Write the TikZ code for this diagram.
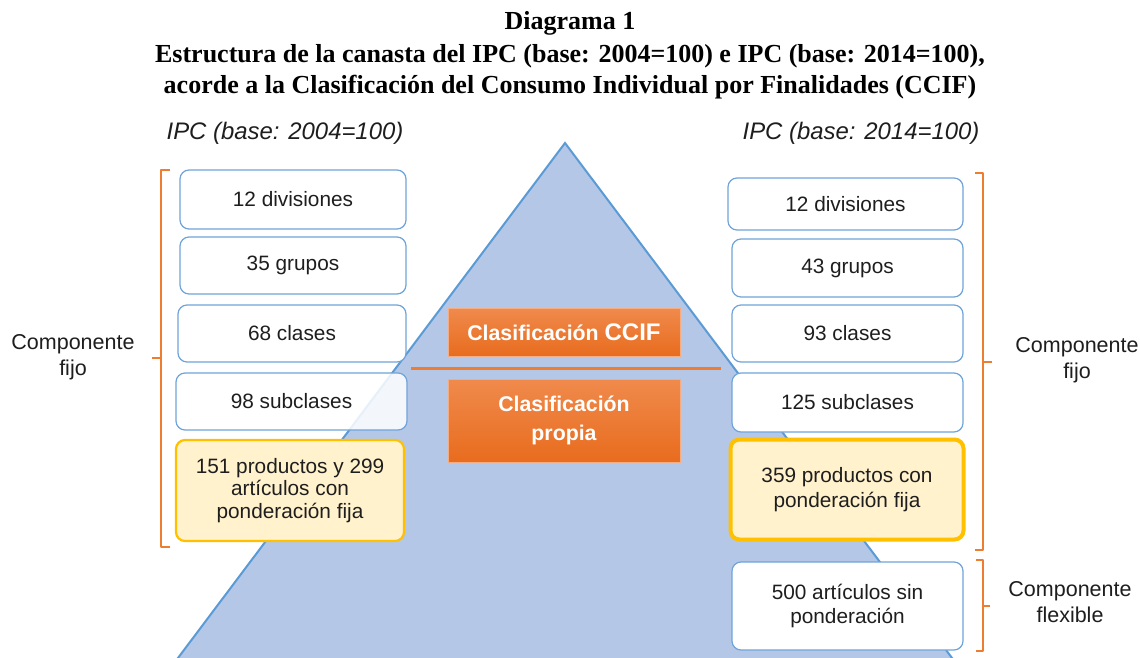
\documentclass[tikz,border=0pt]{standalone}
\usepackage{fontspec}
\setmainfont{Liberation Sans}
\newfontfamily\titlefont{Liberation Serif}
\definecolor{triblue}{HTML}{B4C7E7}
\definecolor{triedge}{HTML}{5B9BD5}
\definecolor{boxedge}{HTML}{6FA3DA}
\definecolor{orangeA}{HTML}{F08A4C}
\definecolor{orangeB}{HTML}{E86C1E}
\definecolor{yellowfill}{HTML}{FFF2CC}
\definecolor{yellowedge}{HTML}{FFC000}
\definecolor{bracec}{HTML}{ED7D31}
\definecolor{txt}{HTML}{1E1E1E}
\begin{document}
\begin{tikzpicture}[x=1pt,y=-1pt,
  box/.style={draw=boxedge, line width=1.2pt, fill=white, rounded corners=9pt,
    inner sep=0pt, align=center, text=txt,
    font=\fontsize{20.8}{22.5}\selectfont},
  ybox/.style={box, draw=yellowedge, fill=yellowfill},
  obox/.style={draw=orangeA!70!white, line width=0.6pt, top color=orangeA, bottom color=orangeB,
    inner sep=0pt, align=center, text=white, font=\bfseries\fontsize{21.3}{29}\selectfont},
  lbl/.style={align=center, text=txt, font=\fontsize{21.5}{26}\selectfont},
  hdr/.style={text=txt, font=\itshape\fontsize{23.9}{26}\selectfont},
  ttl/.style={text=black, font=\titlefont\bfseries\fontsize{26}{28}\selectfont},
  brace/.style={draw=bracec, line width=2pt, line join=round}
]
\useasboundingbox (0,0) rectangle (1140,658);
\fill[white] (0,0) rectangle (1140,658);
% triangle
\begin{scope}
\clip (0,0) rectangle (1140,658);
\filldraw[fill=triblue, draw=triedge, line width=2pt, line join=miter]
  (565,143) -- (146.4,700) -- (983.6,700) -- cycle;
\end{scope}
% title
\node[ttl] (t1) at (570,23) {Diagrama 1};
\node[ttl] (t2) at (570,56) {Estructura de la canasta del IPC (base: 2004=100) e IPC (base: 2014=100),};
\node[ttl] (t3) at (570,87) {acorde a la Clasificación del Consumo Individual por Finalidades (CCIF)};
% headers
\node[hdr] (h1) at (285,133) {IPC (base: 2004=100)};
\node[hdr] (h2) at (861,133) {IPC (base: 2014=100)};
% left boxes
\node[box, minimum width=226pt, minimum height=59pt] (l1) at (293,199.5) {12 divisiones};
\node[box, minimum width=226pt, minimum height=57pt] (l2) at (293,265.5) {35 grupos};
\node[box, minimum width=228pt, minimum height=57pt] (l3) at (292,333.5) {68 clases};
\node[box, fill opacity=0.85, text opacity=1, minimum width=231pt, minimum height=57pt] (l4) at (291.5,401.5) {98 subclases};
\node[ybox, line width=2.2pt, minimum width=228pt, minimum height=101pt] (l5) at (290,490.5) {151 productos y 299\\artículos con\\ponderación fija};
% right boxes
\node[box, minimum width=235pt, minimum height=52pt] (r1) at (845.5,204) {12 divisiones};
\node[box, minimum width=231pt, minimum height=58pt] (r2) at (847.5,268) {43 grupos};
\node[box, minimum width=231pt, minimum height=57pt] (r3) at (847.5,333.5) {93 clases};
\node[box, minimum width=231pt, minimum height=59pt] (r4) at (847.5,402.5) {125 subclases};
\node[ybox, line width=4pt, minimum width=233pt, minimum height=100pt, font=\fontsize{20.8}{25}\selectfont] (r5) at (847,489.5) {359 productos con\\ponderación fija};
\node[box, minimum width=231pt, minimum height=88pt, font=\fontsize{20.8}{24}\selectfont] (r6) at (847.5,606) {500 artículos sin\\ponderación};
% orange boxes
\node[obox, minimum width=232pt, minimum height=48pt] (o1) at (564,332) {Clasificación {\fontsize{24}{26}\selectfont CCIF}};
\node[obox, minimum width=232pt, minimum height=83pt] (o2) at (564,420.5) {Clasificación\\propia};
\coordinate (sepL) at (411,368);
\coordinate (sepR) at (721,368);
\draw[draw=bracec, line width=3pt] (sepL) -- (sepR);
% braces
\draw[brace] (170,170) -- (161,170) -- (161,547) -- (170,547);
\draw[brace] (161,358) -- (152,358);
\draw[brace] (975,173) -- (983,173) -- (983,550) -- (975,550);
\draw[brace] (983,362) -- (992,362);
\draw[brace] (976,560) -- (983,560) -- (983,651) -- (976,651);
\draw[brace] (983,606) -- (990,606);
% labels
\node[lbl] (c1) at (73,357) {Componente\\fijo};
\node[lbl] (c2) at (1077,360) {Componente\\fijo};
\node[lbl] (c3) at (1070,602) {Componente\\flexible};
\end{tikzpicture}
\end{document}
